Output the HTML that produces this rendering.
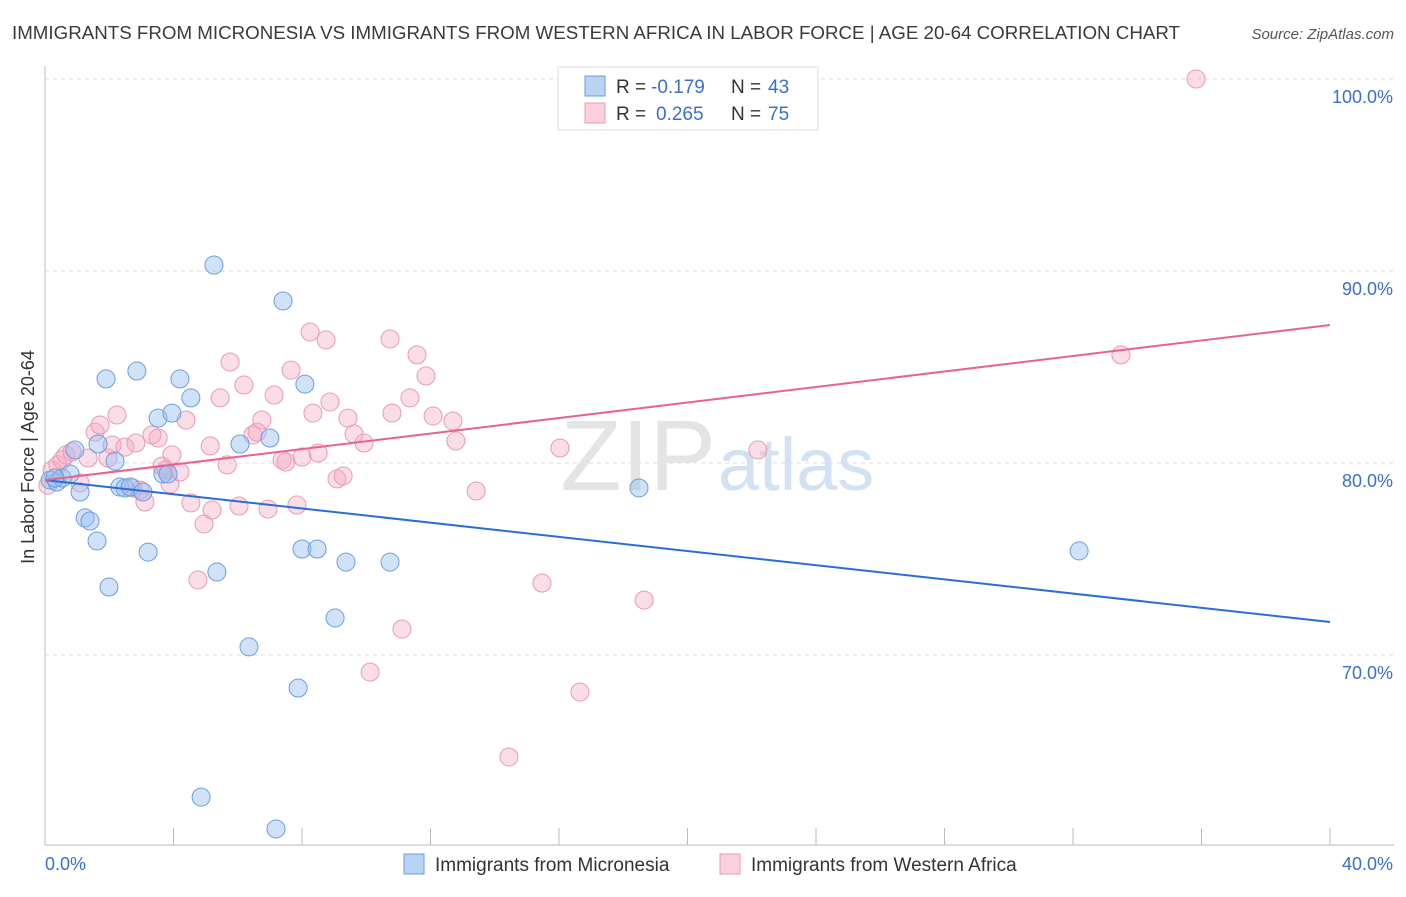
<!DOCTYPE html>
<html><head><meta charset="utf-8"><style>
body{margin:0;background:#fff;font-family:"Liberation Sans",sans-serif}
svg text{font-family:"Liberation Sans",sans-serif}
</style></head><body>
<svg id="chart" width="1406" height="892">
<text x="12" y="39" font-size="18" fill="#3a3a3a" textLength="1168" lengthAdjust="spacingAndGlyphs">IMMIGRANTS FROM MICRONESIA VS IMMIGRANTS FROM WESTERN AFRICA IN LABOR FORCE | AGE 20-64 CORRELATION CHART</text>
<text x="1394" y="39" font-size="15" fill="#555" text-anchor="end" font-style="italic">Source: ZipAtlas.com</text>
<g id="grid"></g>
<text x="716" y="490" font-size="100" fill="#e4e4e4" text-anchor="end" font-family="Liberation Serif">ZIP</text>
<text x="718" y="490" font-size="74" fill="#d3e2f3">atlas</text>
<g id="marks"></g>
<text transform="translate(34,457) rotate(-90)" font-size="18" fill="#333" text-anchor="middle">In Labor Force | Age 20-64</text>
<text x="45" y="870" font-size="18" fill="#3a6fd0">0.0%</text>
<text x="1393" y="870" font-size="18" fill="#3a6fd0" text-anchor="end">40.0%</text>
<g>
<rect x="558" y="67" width="260" height="63" fill="#fff" stroke="#ddd"/>
<rect x="585" y="76" width="20" height="20" fill="#b9d3f5" stroke="#6a9ee0"/>
<rect x="585" y="103" width="20" height="20" fill="#fbd0dd" stroke="#eb9ab4"/>
<text x="616" y="93" font-size="19" fill="#333">R =</text>
<text x="651" y="93" font-size="19" fill="#3a6fd0">-0.179</text>
<text x="731" y="93" font-size="19" fill="#333">N =</text>
<text x="768" y="93" font-size="19" fill="#3a6fd0">43</text>
<text x="616" y="120" font-size="19" fill="#333">R =</text>
<text x="656" y="120" font-size="19" fill="#3a6fd0">0.265</text>
<text x="731" y="120" font-size="19" fill="#333">N =</text>
<text x="768" y="120" font-size="19" fill="#3a6fd0">75</text>
</g>
<g>
<rect x="404" y="854" width="20" height="20" fill="#b9d3f5" stroke="#6a9ee0"/>
<text x="435" y="871" font-size="19" fill="#333">Immigrants from Micronesia</text>
<rect x="720" y="854" width="20" height="20" fill="#fbd0dd" stroke="#eb9ab4"/>
<text x="751" y="871" font-size="19" fill="#333">Immigrants from Western Africa</text>
</g>
</svg>
<script>
const yTicks=[100,90,80,70];
const yTickLabels=["100.0%","90.0%","80.0%","70.0%"];
const xTicks=[0,4,8,12,16,20,24,28,32,36,40];
const blueX=[0.16,0.37,0.53,0.78,0.93,1.09,1.25,1.40,1.62,1.65,1.90,1.99,2.18,2.33,2.49,2.65,2.86,3.05,3.21,3.52,3.67,3.83,3.95,4.20,4.54,4.86,5.26,5.35,6.07,6.35,7.00,7.41,7.88,8.00,8.09,8.47,9.03,9.37,10.74,7.19,18.49,32.19,0.31];
const blueY=[79.11,79.01,79.22,79.43,80.68,78.49,77.14,76.98,75.94,80.99,84.38,73.54,80.10,78.75,78.70,78.75,84.79,78.49,75.36,82.34,79.43,79.43,82.60,84.38,83.39,62.60,90.31,74.32,80.99,70.42,81.30,88.44,68.28,75.52,84.11,75.52,71.93,74.84,74.84,60.94,78.70,75.42,79.22];
const pinkX=[0.09,0.22,0.40,0.53,0.65,0.84,1.09,1.34,1.56,1.71,1.96,2.09,2.24,2.49,2.74,2.83,2.96,3.11,3.33,3.52,3.64,3.77,3.89,3.95,4.20,4.39,4.54,4.76,4.95,5.14,5.20,5.45,5.67,5.76,6.04,6.19,6.47,6.60,6.75,6.94,7.13,7.38,7.50,7.66,7.84,8.00,8.25,8.34,8.50,8.75,8.87,9.09,9.28,9.43,9.62,9.93,10.12,10.74,10.80,11.11,11.36,11.58,11.86,12.08,12.70,12.79,13.42,15.47,16.03,16.65,18.65,22.19,33.49,35.83,14.44];
const pinkY=[78.85,79.64,79.90,80.16,80.42,80.57,78.96,80.26,81.61,81.98,80.26,80.94,82.50,80.83,78.70,81.04,78.59,77.97,81.46,81.30,79.84,79.64,78.91,80.42,79.53,82.24,77.92,73.91,76.82,80.89,77.55,83.39,79.90,85.26,77.76,84.06,81.46,81.61,82.24,77.60,83.54,80.16,80.05,84.84,77.81,80.31,86.82,82.60,80.52,86.41,83.18,79.17,79.32,82.34,81.51,81.04,69.11,86.46,82.60,71.35,83.39,85.63,84.53,82.45,82.19,81.15,78.54,73.75,80.78,68.07,72.86,80.68,85.63,100.0,64.69];
const blueTrend=[79.11,71.72];
const pinkTrend=[79.11,87.19];
const NS='http://www.w3.org/2000/svg';
const sx=v=>45+v/40*1285;
const sy=v=>79+(100-v)*19.2;
function mk(t,a,p){const e=document.createElementNS(NS,t);for(const k in a)e.setAttribute(k,a[k]);p.appendChild(e);return e;}
const grid=document.getElementById('grid'),marks=document.getElementById('marks');
yTicks.forEach((v,i)=>{
 const l=mk('line',{x1:45,x2:1394,y1:sy(v),y2:sy(v),stroke:'#ddd','stroke-dasharray':'4 4'},grid);
 
 
 const t=mk('text',{x:1393,y:sy(v)+24,'font-size':18,fill:'#3a6fd0','text-anchor':'end'},grid);
 t.textContent=yTickLabels[i];
 
 
});
const ax=mk('line',{x1:45,x2:45,y1:66,y2:845,stroke:'#bbb'},grid);


const bx=mk('line',{x1:45,x2:1394,y1:845,y2:845,stroke:'#bbb'},grid);


xTicks.forEach(v=>{
 const t=mk('line',{x1:sx(v),x2:sx(v),y1:828,y2:845,stroke:'#bbb'},grid);
 
 
});
function pts(X,Y,fill,stroke,name){
 X.forEach((x,i)=>{
  const c=mk('circle',{cx:sx(x),cy:sy(Y[i]),r:9,fill:fill,stroke:stroke,'stroke-width':1},marks);
  
  
 });
}
pts(pinkX,pinkY,'rgba(245,170,195,0.4)','#eb9ab4','western-africa-point');
pts(blueX,blueY,'rgba(150,190,240,0.45)','#6a9ee0','micronesia-point');
const lb=mk('line',{x1:sx(0),x2:sx(40),y1:sy(blueTrend[0]),y2:sy(blueTrend[1]),stroke:'#2a6dd9','stroke-width':2},marks);


const lp=mk('line',{x1:sx(0),x2:sx(40),y1:sy(pinkTrend[0]),y2:sy(pinkTrend[1]),stroke:'#e8628c','stroke-width':2},marks);


</script>
</body></html>
